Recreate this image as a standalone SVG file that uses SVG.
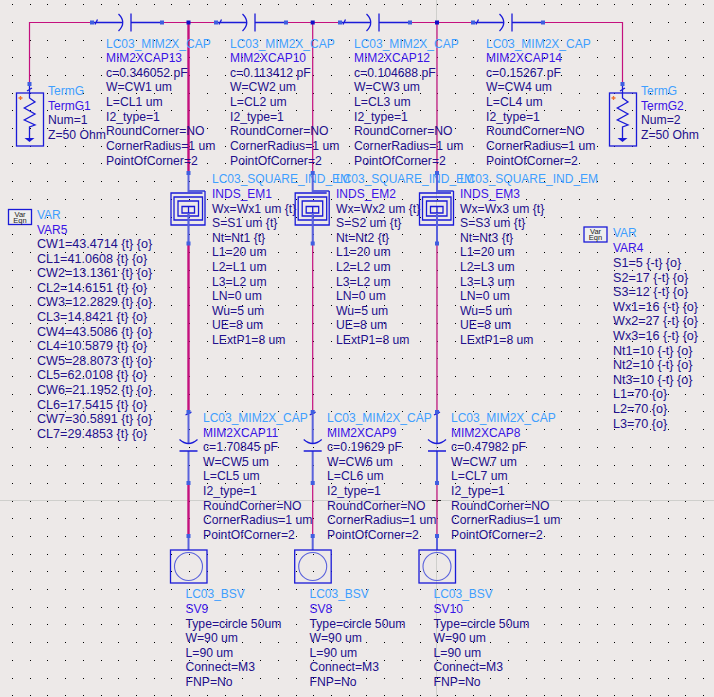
<svg xmlns="http://www.w3.org/2000/svg" width="714" height="697" viewBox="0 0 714 697">
<style>
text{font-family:"Liberation Sans",Arial,sans-serif;font-size:12.2px;fill:#23108c}
.v{font-size:12.6px}
.h{fill:#3f9fff;font-size:12px}.n{fill:#3a14e6;font-size:12px}
.w{fill:none;stroke:#c4107e;stroke-width:1.2}
.t{fill:none;stroke:#c4107e;stroke-width:2.4}
.b{fill:none;stroke:#1a1ad8;stroke-width:1.3}
.l{fill:none;stroke:#5a62dc;stroke-width:2}
.p{fill:#3f5fe0}
.j{fill:#1010c8}
.dots{fill:none;stroke:#000;stroke-width:1;stroke-dasharray:1 16.72;shape-rendering:crispEdges}
</style>
<defs>
<path id="row" class="dots" d="M12 0H714"/>
<g id="hcap"><path class="b" d="M0 0H30.700M26.500 -8.500Q35 0 26.500 8.500M39 -9V9M39 0H70M3 2L5.500 -3"/><rect class="p" x="-2" y="-2" width="4" height="4"/><rect class="p" x="68" y="-2" width="4" height="4"/></g>
<g id="ind"><path class="l" d="M0 0V18H16.500"/><path class="b" d="M16.500 18V52H-17.500V20H14M-14.500 24H14V47H-14.500ZM-10.500 28H10V43H-10.500ZM-6.500 33.500H6V40H-6.500ZM0 33.500V70"/><path class="l" d="M0 40V70"/><rect class="p" x="-2" y="-2" width="4" height="4"/><rect class="p" x="-2" y="68.500" width="4" height="4"/></g>
<g id="vcap"><path class="l" d="M0 0V31.500M0 39V71"/><path class="b" d="M-9 27.500Q0 35.500 9 27.500M-9 39H9M-3 3L3 0"/><rect class="p" x="-2" y="-2" width="4" height="4"/><rect class="p" x="-2" y="69" width="4" height="4"/></g>
<g id="via"><path class="l" d="M0 -14V0"/><rect class="p" x="-2" y="-16" width="4" height="4"/><rect x="-18" y="0" width="36.500" height="33" fill="none" stroke="#1a1ad8" stroke-width="1.300"/><circle cx="0" cy="16.500" r="14" fill="none" stroke="#5a62dc" stroke-width="1.100"/></g>
<g id="term"><path class="b" d="M0 -6V8L5.500 12L-5.200 18L5.500 24L-5.200 30L5.500 35L0 37V48M-2.500 1L2.500 -2"/><path d="M-5 48H5L0 52Z" fill="#1a1ad8"/><rect class="p" x="-2" y="-8" width="4" height="4"/><rect x="-13" y="3" width="27" height="53" fill="none" stroke="#1a1ad8" stroke-width="1.300"/><path d="M-11 8H-7M-9 6V10" stroke="#f07030" stroke-width="1.300"/></g>
<g id="var"><rect x="0" y="0" width="23" height="15" fill="#eee" stroke="#1a1ad8" stroke-width="1.300"/><text x="11.500" y="7" text-anchor="middle" style="font-size:7.500px;fill:#222">Var</text><text x="11.500" y="13" text-anchor="middle" style="font-size:7.500px;fill:#222">Eqn</text></g>
</defs>
<rect width="714" height="697" fill="#ede9e8"/>
<g id="grid">
<path d="M0 500.500H714M436.500 0V697" stroke="#cfcfcc" stroke-width="1" fill="none"/>
<use href="#row" y="4.500"/><use href="#row" y="22.500"/><use href="#row" y="40.500"/><use href="#row" y="57.500"/><use href="#row" y="75.500"/><use href="#row" y="93.500"/><use href="#row" y="110.500"/><use href="#row" y="128.500"/><use href="#row" y="146.500"/><use href="#row" y="163.500"/><use href="#row" y="181.500"/><use href="#row" y="199.500"/><use href="#row" y="217.500"/><use href="#row" y="234.500"/><use href="#row" y="252.500"/><use href="#row" y="270.500"/><use href="#row" y="287.500"/><use href="#row" y="305.500"/><use href="#row" y="323.500"/><use href="#row" y="341.500"/><use href="#row" y="358.500"/><use href="#row" y="376.500"/><use href="#row" y="394.500"/><use href="#row" y="411.500"/><use href="#row" y="429.500"/><use href="#row" y="447.500"/><use href="#row" y="465.500"/><use href="#row" y="483.500"/><use href="#row" y="501.500"/><use href="#row" y="518.500"/><use href="#row" y="536.500"/><use href="#row" y="554.500"/><use href="#row" y="571.500"/><use href="#row" y="589.500"/><use href="#row" y="607.500"/><use href="#row" y="624.500"/><use href="#row" y="642.500"/><use href="#row" y="660.500"/><use href="#row" y="678.500"/><use href="#row" y="695.500"/>
<path d="M432 500.500H441" stroke="#222" stroke-width="1" fill="none"/>
</g>
<g id="connectors">
<path class="w" d="M92 22.500H29.500V84M162 22.500H216M286 22.500H340M410 22.500H473M543 22.500H622.500V84"/>
<path class="t" d="M188.500 22.500V173M188.500 243V412M188.500 483V536"/>
<path class="w" d="M312.700 22.500V173M312.700 243V412M312.700 483V536M437 22.500V173M437 243V412M437 483V536"/>
<rect class="j" x="186.500" y="20.500" width="4" height="4"/><rect class="j" x="310.700" y="20.500" width="4" height="4"/><rect class="j" x="435" y="20.500" width="4" height="4"/>
</g>
<g id="MIM2XCAP13"><use href="#hcap" x="92" y="22.500"/><text><tspan class="h" x="106" y="47.500">LC03_MIM2X_CAP</tspan><tspan class="n" x="106" y="62">MIM2XCAP13</tspan><tspan x="106" y="76.800">c=0.346052 pF</tspan><tspan x="106" y="91.400">W=CW1 um</tspan><tspan x="106" y="106">L=CL1 um</tspan><tspan x="106" y="120.700">I2_type=1</tspan><tspan x="106" y="135.300">RoundCorner=NO</tspan><tspan x="106" y="150">CornerRadius=1 um</tspan><tspan x="106" y="164.700">PointOfCorner=2</tspan></text></g>
<g id="MIM2XCAP10"><use href="#hcap" x="216" y="22.500"/><text><tspan class="h" x="230" y="47.500">LC03_MIM2X_CAP</tspan><tspan class="n" x="230" y="62">MIM2XCAP10</tspan><tspan x="230" y="76.800">c=0.113412 pF</tspan><tspan x="230" y="91.400">W=CW2 um</tspan><tspan x="230" y="106">L=CL2 um</tspan><tspan x="230" y="120.700">I2_type=1</tspan><tspan x="230" y="135.300">RoundCorner=NO</tspan><tspan x="230" y="150">CornerRadius=1 um</tspan><tspan x="230" y="164.700">PointOfCorner=2</tspan></text></g>
<g id="MIM2XCAP12"><use href="#hcap" x="340" y="22.500"/><text><tspan class="h" x="354" y="47.500">LC03_MIM2X_CAP</tspan><tspan class="n" x="354" y="62">MIM2XCAP12</tspan><tspan x="354" y="76.800">c=0.104688 pF</tspan><tspan x="354" y="91.400">W=CW3 um</tspan><tspan x="354" y="106">L=CL3 um</tspan><tspan x="354" y="120.700">I2_type=1</tspan><tspan x="354" y="135.300">RoundCorner=NO</tspan><tspan x="354" y="150">CornerRadius=1 um</tspan><tspan x="354" y="164.700">PointOfCorner=2</tspan></text></g>
<g id="MIM2XCAP14"><use href="#hcap" x="473" y="22.500"/><text><tspan class="h" x="486" y="47.500">LC03_MIM2X_CAP</tspan><tspan class="n" x="486" y="62">MIM2XCAP14</tspan><tspan x="486" y="76.800">c=0.15267 pF</tspan><tspan x="486" y="91.400">W=CW4 um</tspan><tspan x="486" y="106">L=CL4 um</tspan><tspan x="486" y="120.700">I2_type=1</tspan><tspan x="486" y="135.300">RoundCorner=NO</tspan><tspan x="486" y="150">CornerRadius=1 um</tspan><tspan x="486" y="164.700">PointOfCorner=2</tspan></text></g>
<g id="TermG1"><use href="#term" x="29.500" y="90"/><text><tspan class="h" x="48" y="95">TermG</tspan><tspan class="n" x="48" y="110">TermG1</tspan><tspan x="48" y="124">Num=1</tspan><tspan x="48" y="138.500">Z=50 Ohm</tspan></text></g>
<g id="TermG2"><use href="#term" x="622.500" y="90"/><text><tspan class="h" x="641" y="95">TermG</tspan><tspan class="n" x="641" y="110">TermG2</tspan><tspan x="641" y="124">Num=2</tspan><tspan x="641" y="138.500">Z=50 Ohm</tspan></text></g>
<g id="INDS_EM1"><use href="#ind" x="188.500" y="173"/><text><tspan class="h" x="212" y="183">LC03_SQUARE_IND_EM</tspan><tspan class="n" x="212" y="198">INDS_EM1</tspan><tspan x="212" y="212.600">Wx=Wx1 um {t}</tspan><tspan x="212" y="227.200">S=S1 um {t}</tspan><tspan x="212" y="241.800">Nt=Nt1 {t}</tspan><tspan x="212" y="256.400">L1=20 um</tspan><tspan x="212" y="271">L2=L1 um</tspan><tspan x="212" y="285.600">L3=L2 um</tspan><tspan x="212" y="300.200">LN=0 um</tspan><tspan x="212" y="314.800">Wu=5 um</tspan><tspan x="212" y="329.400">UE=8 um</tspan><tspan x="212" y="344">LExtP1=8 um</tspan></text></g>
<g id="INDS_EM2"><use href="#ind" x="312.700" y="173"/><text><tspan class="h" x="336" y="183">LC03_SQUARE_IND_EM</tspan><tspan class="n" x="336" y="198">INDS_EM2</tspan><tspan x="336" y="212.600">Wx=Wx2 um {t}</tspan><tspan x="336" y="227.200">S=S2 um {t}</tspan><tspan x="336" y="241.800">Nt=Nt2 {t}</tspan><tspan x="336" y="256.400">L1=20 um</tspan><tspan x="336" y="271">L2=L2 um</tspan><tspan x="336" y="285.600">L3=L2 um</tspan><tspan x="336" y="300.200">LN=0 um</tspan><tspan x="336" y="314.800">Wu=5 um</tspan><tspan x="336" y="329.400">UE=8 um</tspan><tspan x="336" y="344">LExtP1=8 um</tspan></text></g>
<g id="INDS_EM3"><use href="#ind" x="437" y="173"/><text><tspan class="h" x="460" y="183">LC03_SQUARE_IND_EM</tspan><tspan class="n" x="460" y="198">INDS_EM3</tspan><tspan x="460" y="212.600">Wx=Wx3 um {t}</tspan><tspan x="460" y="227.200">S=S3 um {t}</tspan><tspan x="460" y="241.800">Nt=Nt3 {t}</tspan><tspan x="460" y="256.400">L1=20 um</tspan><tspan x="460" y="271">L2=L3 um</tspan><tspan x="460" y="285.600">L3=L3 um</tspan><tspan x="460" y="300.200">LN=0 um</tspan><tspan x="460" y="314.800">Wu=5 um</tspan><tspan x="460" y="329.400">UE=8 um</tspan><tspan x="460" y="344">LExtP1=8 um</tspan></text></g>
<g id="MIM2XCAP11"><use href="#vcap" x="188.500" y="412"/><text><tspan class="h" x="203" y="422">LC03_MIM2X_CAP</tspan><tspan class="n" x="203" y="436.600">MIM2XCAP11</tspan><tspan x="203" y="451.200">c=1.70845 pF</tspan><tspan x="203" y="465.800">W=CW5 um</tspan><tspan x="203" y="480.400">L=CL5 um</tspan><tspan x="203" y="495">I2_type=1</tspan><tspan x="203" y="509.600">RoundCorner=NO</tspan><tspan x="203" y="524.200">CornerRadius=1 um</tspan><tspan x="203" y="538.800">PointOfCorner=2</tspan></text></g>
<g id="MIM2XCAP9"><use href="#vcap" x="312.700" y="412"/><text><tspan class="h" x="327" y="422">LC03_MIM2X_CAP</tspan><tspan class="n" x="327" y="436.600">MIM2XCAP9</tspan><tspan x="327" y="451.200">c=0.19629 pF</tspan><tspan x="327" y="465.800">W=CW6 um</tspan><tspan x="327" y="480.400">L=CL6 um</tspan><tspan x="327" y="495">I2_type=1</tspan><tspan x="327" y="509.600">RoundCorner=NO</tspan><tspan x="327" y="524.200">CornerRadius=1 um</tspan><tspan x="327" y="538.800">PointOfCorner=2</tspan></text></g>
<g id="MIM2XCAP8"><use href="#vcap" x="437" y="412"/><text><tspan class="h" x="451" y="422">LC03_MIM2X_CAP</tspan><tspan class="n" x="451" y="436.600">MIM2XCAP8</tspan><tspan x="451" y="451.200">c=0.47982 pF</tspan><tspan x="451" y="465.800">W=CW7 um</tspan><tspan x="451" y="480.400">L=CL7 um</tspan><tspan x="451" y="495">I2_type=1</tspan><tspan x="451" y="509.600">RoundCorner=NO</tspan><tspan x="451" y="524.200">CornerRadius=1 um</tspan><tspan x="451" y="538.800">PointOfCorner=2</tspan></text></g>
<g id="SV9"><use href="#via" x="188.500" y="550"/><text><tspan class="h" x="185.500" y="598">LC03_BSV</tspan><tspan class="n" x="185.500" y="613">SV9</tspan><tspan x="185.500" y="627.500">Type=circle 50um</tspan><tspan x="185.500" y="642">W=90 um</tspan><tspan x="185.500" y="656.500">L=90 um</tspan><tspan x="185.500" y="671">Connect=M3</tspan><tspan x="185.500" y="686">FNP=No</tspan></text></g>
<g id="SV8"><use href="#via" x="312.700" y="550"/><text><tspan class="h" x="309.500" y="598">LC03_BSV</tspan><tspan class="n" x="309.500" y="613">SV8</tspan><tspan x="309.500" y="627.500">Type=circle 50um</tspan><tspan x="309.500" y="642">W=90 um</tspan><tspan x="309.500" y="656.500">L=90 um</tspan><tspan x="309.500" y="671">Connect=M3</tspan><tspan x="309.500" y="686">FNP=No</tspan></text></g>
<g id="SV10"><use href="#via" x="437" y="550"/><text><tspan class="h" x="433.500" y="598">LC03_BSV</tspan><tspan class="n" x="433.500" y="613">SV10</tspan><tspan x="433.500" y="627.500">Type=circle 50um</tspan><tspan x="433.500" y="642">W=90 um</tspan><tspan x="433.500" y="656.500">L=90 um</tspan><tspan x="433.500" y="671">Connect=M3</tspan><tspan x="433.500" y="686">FNP=No</tspan></text></g>
<g id="VAR5"><use href="#var" x="8.500" y="209.500"/><text class="v"><tspan class="h" x="37" y="219">VAR</tspan><tspan class="n" x="37" y="233.700">VAR5</tspan><tspan x="37" y="248">CW1=43.4714 {t} {o}</tspan><tspan x="37" y="262.600">CL1=41.0608 {t} {o}</tspan><tspan x="37" y="277.200">CW2=13.1361 {t} {o}</tspan><tspan x="37" y="291.800">CL2=14.6151 {t} {o}</tspan><tspan x="37" y="306.400">CW3=12.2829 {t} {o}</tspan><tspan x="37" y="321">CL3=14.8421 {t} {o}</tspan><tspan x="37" y="335.600">CW4=43.5086 {t} {o}</tspan><tspan x="37" y="350.200">CL4=10.5879 {t} {o}</tspan><tspan x="37" y="364.800">CW5=28.8073 {t} {o}</tspan><tspan x="37" y="379.400">CL5=62.0108 {t} {o}</tspan><tspan x="37" y="394">CW6=21.1952 {t} {o}</tspan><tspan x="37" y="408.600">CL6=17.5415 {t} {o}</tspan><tspan x="37" y="423.200">CW7=30.5891 {t} {o}</tspan><tspan x="37" y="437.800">CL7=29.4853 {t} {o}</tspan></text></g>
<g id="VAR4"><use href="#var" x="584" y="227"/><text class="v"><tspan class="h" x="613" y="237">VAR</tspan><tspan class="n" x="613" y="252">VAR4</tspan><tspan x="613" y="267">S1=5 {-t} {o}</tspan><tspan x="613" y="281.600">S2=17 {-t} {o}</tspan><tspan x="613" y="296.200">S3=12 {-t} {o}</tspan><tspan x="613" y="310.800">Wx1=16 {-t} {o}</tspan><tspan x="613" y="325.400">Wx2=27 {-t} {o}</tspan><tspan x="613" y="340">Wx3=16 {-t} {o}</tspan><tspan x="613" y="354.600">Nt1=10 {-t} {o}</tspan><tspan x="613" y="369.200">Nt2=10 {-t} {o}</tspan><tspan x="613" y="383.800">Nt3=10 {-t} {o}</tspan><tspan x="613" y="398.400">L1=70 {o}</tspan><tspan x="613" y="413">L2=70 {o}</tspan><tspan x="613" y="427.600">L3=70 {o}</tspan></text></g>
</svg>
